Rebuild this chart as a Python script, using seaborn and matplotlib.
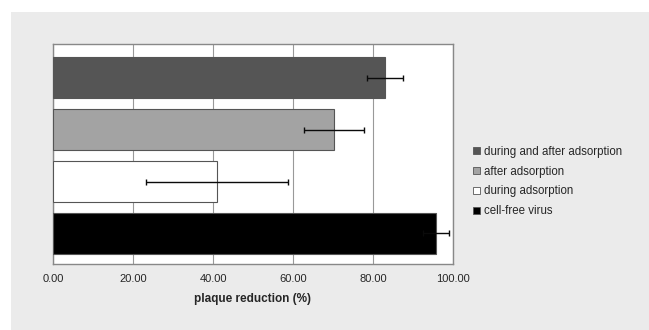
import matplotlib
matplotlib.use("Agg")
import matplotlib.pyplot as plt
import matplotlib.patches as mpatches
import seaborn as sns
import pandas as pd

categories = ["during and after adsorption", "after adsorption", "during adsorption", "cell-free virus"]
values = [83.0, 70.2, 41.0, 95.8]
err_low = [78.5, 62.8, 23.3, 92.6]
err_high = [87.5, 77.8, 58.8, 99.0]
colors = ["#555555", "#a3a3a3", "#ffffff", "#000000"]
xticks = [0, 20, 40, 60, 80, 100]
xtick_labels = ["0.00", "20.00", "40.00", "60.00", "80.00", "100.00"]

sns.set_style("white")
plt.rcParams['font.family'] = ['Liberation Sans', 'DejaVu Sans']

fig = plt.figure(figsize=(6.49, 3.30), dpi=100)
fig.patch.set_facecolor("white")
bg = mpatches.Rectangle((11/649, 0), 1, 1 - 12/330, transform=fig.transFigure,
                        facecolor="#ebebeb", edgecolor="none", zorder=-10)
fig.patches.append(bg)

ax = fig.add_axes([53/649, 1 - 264/330, 400/649, 220/330])
df = pd.DataFrame({"cond": categories, "val": values})
sns.barplot(data=df, y="cond", x="val", hue="cond", palette=colors, order=categories,
            orient="h", width=0.78, edgecolor="#555555", linewidth=0.8, legend=False,
            ax=ax, zorder=3)

for i, (lo, hi) in enumerate(zip(err_low, err_high)):
    ax.errorbar([(lo + hi) / 2], [i], xerr=[[(hi - lo) / 2]], fmt="none",
                ecolor="#0a0a0a", elinewidth=1, capsize=2.5, capthick=1, zorder=4)

ax.set_xlim(0, 100)
ax.set_ylim(3.59, -0.65)
ax.set_xticks(xticks)
ax.set_xticklabels(xtick_labels, fontsize=8)
ax.set_yticks([])
ax.set_ylabel("")
ax.set_xlabel("plaque reduction (%)", fontsize=8.5, fontweight="bold", labelpad=7)
ax.set_facecolor("white")
ax.grid(axis="x", color="#999999", linewidth=0.8, zorder=0)
ax.set_axisbelow(True)
for s in ax.spines.values():
    s.set_color("#888888")
    s.set_linewidth(1)
ax.tick_params(axis="x", length=3, color="#888888", pad=4)

handles = [mpatches.Patch(facecolor=c, edgecolor="#555555", linewidth=0.6) for c in colors]
leg = fig.legend(handles, categories, loc="center left", bbox_to_anchor=(463/649, 1 - 181.5/330),
                 frameon=False, fontsize=8.3, handlelength=0.6, handleheight=0.6,
                 handletextpad=0.3, labelspacing=0.68)

fig.savefig("out.png", dpi=100, facecolor=fig.get_facecolor())
